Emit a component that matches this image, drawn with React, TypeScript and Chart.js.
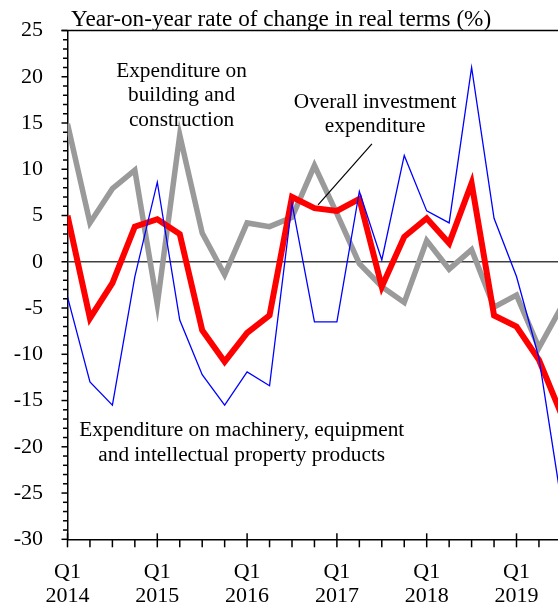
import React, { useEffect, useRef } from "react";
import { Chart, registerables } from "chart.js";

Chart.register(...registerables);

// Quarters Q1 2014 .. Q3 2019
const quarters = [
  "2014Q1", "2014Q2", "2014Q3", "2014Q4",
  "2015Q1", "2015Q2", "2015Q3", "2015Q4",
  "2016Q1", "2016Q2", "2016Q3", "2016Q4",
  "2017Q1", "2017Q2", "2017Q3", "2017Q4",
  "2018Q1", "2018Q2", "2018Q3", "2018Q4",
  "2019Q1", "2019Q2", "2019Q3",
];

const overallInvestment = [
  5.0, -6.1, -2.3, 3.8, 4.6, 3.0, -7.4, -10.8, -7.7, -5.8, 7.0, 5.8,
  5.5, 6.8, -2.7, 2.7, 4.7, 2.0, 8.5, -5.8, -7.0, -10.6, -16.5,
];
const buildingConstruction = [
  14.9, 4.2, 7.9, 9.9, -4.6, 13.7, 3.1, -1.4, 4.2, 3.8, 4.8, 10.4,
  5.2, -0.2, -2.7, -4.4, 2.3, -0.8, 1.3, -4.9, -3.6, -9.3, -4.9,
];
const machineryEquipment = [
  -3.8, -13.0, -15.5, -1.6, 8.6, -6.3, -12.2, -15.5, -11.9, -13.4, 6.3, -6.5,
  -6.5, 7.6, 0.2, 11.5, 5.5, 4.2, 21.0, 4.7, -1.6, -10.4, -26.0,
];

const yMin = -30;
const yMax = 25;
const xMax = 23;
const firstYear = 2014;

const titleText = "Year-on-year rate of change in real terms (%)";
const buildingLabel = ["Expenditure on", "building and", "construction"];
const overallLabel = ["Overall investment", "expenditure"];
const machineryLabel = [
  "Expenditure on machinery, equipment",
  "and intellectual property products",
];

const FONT = "'Liberation Serif', 'Times New Roman', Times, serif";

const toPoints = (vals: number[]) => vals.map((v, i) => ({ x: i, y: v }));

const overlayPlugin = {
  id: "overlay",
  beforeDatasetsDraw(chart: any) {
    const { ctx, chartArea } = chart;
    const y = chart.scales.y;
    const y0 = y.getPixelForValue(0);
    ctx.save();
    ctx.strokeStyle = "#404040";
    ctx.lineWidth = 1.5;
    ctx.beginPath();
    ctx.moveTo(chartArea.left, y0);
    ctx.lineTo(chartArea.right, y0);
    ctx.stroke();
    ctx.restore();
  },
  afterDraw(chart: any) {
    const { ctx, chartArea } = chart;
    const xs = chart.scales.x;
    const ys = chart.scales.y;
    ctx.save();
    ctx.strokeStyle = "#000";
    ctx.lineWidth = 1.5;
    // top frame line
    ctx.beginPath();
    ctx.moveTo(chartArea.left - 6, chartArea.top);
    ctx.lineTo(chart.width, chartArea.top);
    ctx.stroke();
    // y ticks
    for (let v = yMin; v <= yMax; v++) {
      const py = ys.getPixelForValue(v);
      const len = v % 5 === 0 ? 6 : 4.5;
      ctx.beginPath();
      ctx.moveTo(chartArea.left - len, py);
      ctx.lineTo(chartArea.left, py);
      ctx.stroke();
    }
    // x ticks
    for (let i = 0; i <= xMax; i++) {
      const px = xs.getPixelForValue(i);
      ctx.beginPath();
      if (i % 4 === 0) {
        ctx.moveTo(px, chartArea.bottom - 6);
      } else {
        ctx.moveTo(px, chartArea.bottom);
      }
      ctx.lineTo(px, chartArea.bottom + 8);
      ctx.stroke();
    }
    // title
    ctx.fillStyle = "#000";
    ctx.textAlign = "left";
    ctx.textBaseline = "alphabetic";
    ctx.font = `23.2px ${FONT}`;
    ctx.fillText(titleText, chartArea.left + 3.5, chartArea.top - 4.5);

    // annotations
    ctx.font = `21.3px ${FONT}`;
    ctx.textAlign = "center";
    const lh = 24.5;
    const drawLines = (lines: string[], dx: number, dy: number) => {
      const px = xs.getPixelForValue(dx);
      const py = ys.getPixelForValue(dy);
      lines.forEach((t, k) => ctx.fillText(t, px, py + k * lh));
    };
    drawLines(buildingLabel, 5.08, 19.98);
    drawLines(overallLabel, 13.7, 16.63);
    drawLines(machineryLabel, 7.76, -18.87);

    // leader line
    ctx.lineWidth = 1.2;
    ctx.beginPath();
    ctx.moveTo(xs.getPixelForValue(13.56), ys.getPixelForValue(12.74));
    ctx.lineTo(xs.getPixelForValue(11.16), ys.getPixelForValue(6.16));
    ctx.stroke();
    ctx.restore();
  },
};

export default function App() {
  const ref = useRef<HTMLCanvasElement | null>(null);
  useEffect(() => {
    if (!ref.current) return;
    const chart = new Chart(ref.current, {
      type: "line",
      data: {
        labels: quarters,
        datasets: [
          {
            label: "Expenditure on machinery, equipment and intellectual property products",
            data: toPoints(machineryEquipment),
            borderColor: "#0000FF",
            borderWidth: 1.3,
            pointRadius: 0,
            tension: 0,
            order: 0,
          },
          {
            label: "Overall investment expenditure",
            data: toPoints(overallInvestment),
            borderColor: "#FF0000",
            borderWidth: 6,
            pointRadius: 0,
            tension: 0,
            order: 1,
          },
          {
            label: "Expenditure on building and construction",
            data: toPoints(buildingConstruction),
            borderColor: "#9A9A9A",
            borderWidth: 5.5,
            pointRadius: 0,
            tension: 0,
            order: 2,
          },
        ],
      },
      options: {
        animation: false,
        responsive: false,
        events: [],
        layout: { padding: { top: 30.5, left: 0, right: 16.15, bottom: 0 } },
        plugins: {
          legend: { display: false },
          tooltip: { enabled: false },
          title: { display: false },
        },
        scales: {
          x: {
            type: "linear",
            min: 0,
            max: xMax,
            grid: { display: false, drawTicks: false },
            border: { display: true, color: "#000", width: 1.5 },
            afterFit: (s: any) => {
              s.height = 70.7;
              s.paddingLeft = 0;
              s.paddingRight = 0;
              s.paddingTop = 0;
              s.paddingBottom = 0;
            },
            ticks: {
              stepSize: 4,
              autoSkip: false,
              maxRotation: 0,
              padding: 20.5,
              color: "#000",
              font: { family: FONT, size: 22, lineHeight: 24.5 / 22 },
              callback: (v: any) =>
                Number(v) % 4 === 0 ? ["Q1", String(firstYear + Number(v) / 4)] : "",
            },
          },
          y: {
            min: yMin,
            max: yMax,
            grid: { display: false, drawTicks: false },
            border: { display: true, color: "#000", width: 1.5 },
            afterFit: (s: any) => {
              s.width = 67.5;
              s.paddingTop = 0;
              s.paddingBottom = 0;
              s.paddingLeft = 0;
              s.paddingRight = 0;
            },
            ticks: {
              stepSize: 5,
              autoSkip: false,
              padding: 24.5,
              color: "#000",
              font: { family: FONT, size: 22 },
            },
          },
        },
      },
      plugins: [overlayPlugin],
    });
    return () => chart.destroy();
  }, []);

  return (
    <div
      style={{
        position: "fixed",
        left: 0,
        top: 0,
        width: 558,
        height: 610,
        overflow: "hidden",
        background: "#fff",
      }}
    >
      <canvas ref={ref} width={600} height={610} style={{ width: 600, height: 610, display: "block" }} />
    </div>
  );
}
